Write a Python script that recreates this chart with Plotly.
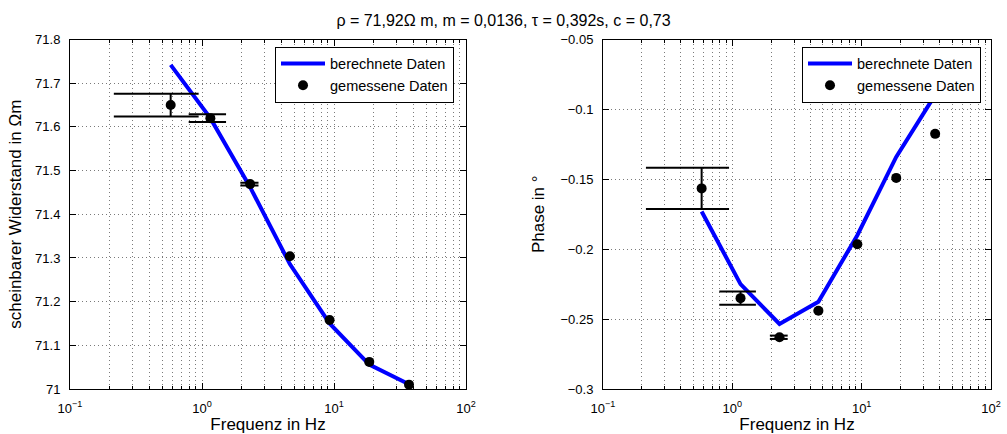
import plotly.graph_objects as go

# ---------------- data ----------------
freq = [0.579, 1.157, 2.315, 4.63, 9.26, 18.5, 37.0]

rho_calc = [71.742, 71.620, 71.462, 71.286, 71.150, 71.056, 71.011]
rho_meas = [71.650, 71.620, 71.469, 71.304, 71.158, 71.062, 71.010]
rho_err = [0.026, 0.009, 0.003, 0.001, 0.001, 0.001, 0.001]

phase_calc = [-0.173, -0.225, -0.2535, -0.2376, -0.190, -0.134, -0.0896]
phase_meas = [-0.1565, -0.2350, -0.2630, -0.2440, -0.1965, -0.1490, -0.1175]
phase_err = [0.0148, 0.0048, 0.0012, 0.0005, 0.0005, 0.0005, 0.0005]

title_text = "ρ = 71,92Ω m, m = 0,0136, τ = 0,392s, c = 0,73"
xtick_vals = [0.1, 1, 10, 100]
xtick_text = ["10<sup>−1</sup>", "10<sup>0</sup>", "10<sup>1</sup>", "10<sup>2</sup>"]

FONT = "Liberation Sans, Arial, Helvetica, sans-serif"
BLUE = "#0000FF"
GRID = "#7a7a7a"
DOT = "1px,3px"


def errorbar_paths(x, y, e):
    # MATLAB-style errorbar: caps of fixed linear half-width
    tee = (max(x) - min(x)) / 100.0
    xs, ys = [], []
    for xi, yi, ei in zip(x, y, e):
        lo, hi = yi - ei, yi + ei
        xs += [xi, xi, None, xi - tee, xi + tee, None, xi - tee, xi + tee, None]
        ys += [lo, hi, None, lo, lo, None, hi, hi, None]
    return xs, ys


fig = go.Figure()


def add_panel(xref, yref, legend, calc, meas, err):
    fig.add_trace(go.Scatter(
        x=freq, y=calc, mode="lines", name="berechnete Daten",
        line=dict(color=BLUE, width=4), xaxis=xref, yaxis=yref, legend=legend))
    ex, ey = errorbar_paths(freq, meas, err)
    fig.add_trace(go.Scatter(
        x=ex, y=ey, mode="lines", showlegend=False, hoverinfo="skip",
        line=dict(color="black", width=2), xaxis=xref, yaxis=yref, legend=legend))
    fig.add_trace(go.Scatter(
        x=freq, y=meas, mode="markers", name="gemessene Daten",
        marker=dict(color="black", size=10, symbol="circle"),
        xaxis=xref, yaxis=yref, legend=legend))


add_panel("x", "y", "legend", rho_calc, rho_meas, rho_err)
add_panel("x2", "y2", "legend2", phase_calc, phase_meas, phase_err)

minor_vals = [m * 10 ** k for k in (-1, 0, 1) for m in range(2, 10)]

common_x = dict(
    type="log", range=[-1, 2], tickvals=xtick_vals, ticktext=xtick_text,
    ticks="inside", ticklen=6, tickcolor="black", mirror="ticks",
    showline=True, linecolor="black", linewidth=1,
    showgrid=True, gridcolor=GRID, griddash=DOT, gridwidth=1,
    zeroline=False, automargin=False,
    minor=dict(tickvals=minor_vals, ticks="inside", ticklen=3, tickcolor="black",
               showgrid=True, gridcolor=GRID, griddash=DOT, gridwidth=1),
    tickfont=dict(family=FONT, size=13, color="black"),
    ticklabelstandoff=7,
    title=dict(text="Frequenz in Hz", font=dict(family=FONT, size=17, color="black"),
               standoff=6),
)
common_y = dict(
    ticks="inside", ticklen=6, tickcolor="black", mirror="ticks",
    showline=True, linecolor="black", linewidth=1,
    showgrid=True, gridcolor=GRID, griddash=DOT, gridwidth=1,
    zeroline=False, automargin=False,
    tickfont=dict(family=FONT, size=13, color="black"),
    ticklabelstandoff=6,
)

ydom = [45 / 434, 1 - 39.5 / 434]

legend_style = dict(
    xanchor="right", yanchor="top", bgcolor="white", bordercolor="black",
    borderwidth=1, font=dict(family=FONT, size=14.5, color="black"),
    tracegroupgap=0, itemwidth=44,
)

fig.update_layout(
    width=1007, height=434,
    margin=dict(l=0, r=0, t=0, b=0, autoexpand=False),
    paper_bgcolor="white", plot_bgcolor="white",
    font=dict(family=FONT, color="black"),
    title=dict(text=title_text, x=0.5, xanchor="center", y=1 - 20 / 434, yanchor="middle",
               font=dict(family=FONT, size=16, color="black"), automargin=False),
    xaxis=dict(domain=[70 / 1007, 466 / 1007], anchor="y", **common_x),
    xaxis2=dict(domain=[603 / 1007, 991 / 1007], anchor="y2", **common_x),
    yaxis=dict(domain=ydom, anchor="x", range=[71, 71.8], dtick=0.1,
               title=dict(text="scheinbarer Widerstand in Ωm",
                          font=dict(family=FONT, size=17, color="black"), standoff=9),
               **common_y),
    yaxis2=dict(domain=ydom, anchor="x2", range=[-0.3, -0.05], dtick=0.05,
                title=dict(text="Phase in °",
                           font=dict(family=FONT, size=17, color="black"), standoff=11),
                **common_y),
    legend=dict(x=454 / 1007, y=1 - 46.5 / 434, **legend_style),
    legend2=dict(x=981 / 1007, y=1 - 46.5 / 434, **legend_style),
    showlegend=True,
)

fig.write_html(
    "out.html",
    config={"displayModeBar": False},
    post_script="document.body.style.margin='0';document.body.style.overflow='hidden';",
)
